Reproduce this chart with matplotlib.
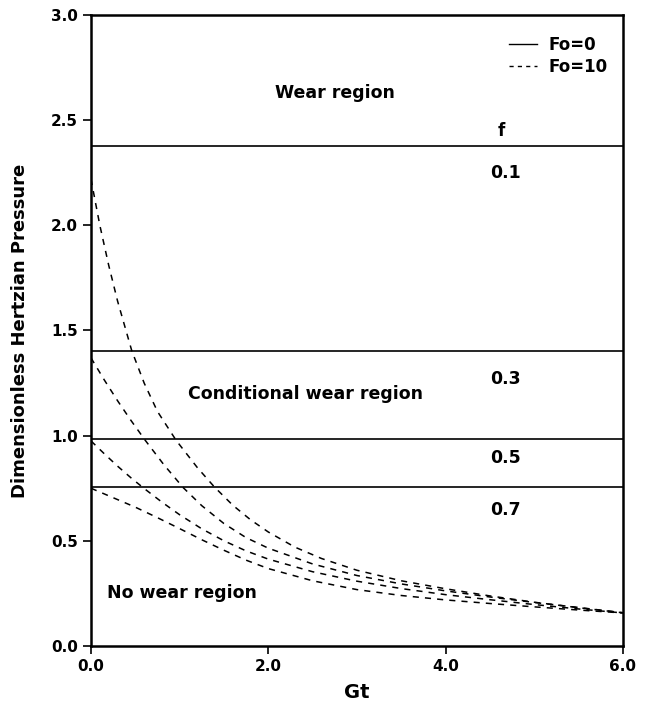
import matplotlib.pyplot as plt
from matplotlib.lines import Line2D

plt.rcParams['font.family'] = ['DejaVu Sans']
plt.rcParams['font.weight'] = 'bold'

# critical pressure for each friction coefficient f (Fo = 0)
f_labels = ['0.1', '0.3', '0.5', '0.7']
p_crit = [2.378, 1.404, 0.982, 0.754]

# Fo = 10 curves
gt_1 = [0.0, 0.1, 0.2, 0.3, 0.46, 0.6, 0.75, 0.96, 1.2, 1.39, 1.6, 1.8, 2.0, 2.3, 2.6,
        3.0, 3.5, 4.0, 4.5, 5.0, 5.5, 6.0]
p_1 = [2.22, 2.0, 1.81, 1.64, 1.404, 1.25, 1.115, 0.978, 0.848, 0.757, 0.669, 0.6, 0.542,
       0.47, 0.416, 0.36, 0.31, 0.272, 0.238, 0.208, 0.182, 0.158]

gt_2 = [0.0, 0.15, 0.3, 0.45, 0.61, 0.82, 1.04, 1.25, 1.5, 1.75, 2.0, 2.5, 3.0, 3.5, 4.0,
        4.5, 5.0, 5.5, 6.0]
p_2 = [1.37, 1.265, 1.166, 1.073, 0.979, 0.863, 0.753, 0.667, 0.582, 0.515, 0.465, 0.39,
       0.335, 0.295, 0.262, 0.233, 0.207, 0.183, 0.158]

gt_3 = [0.0, 0.15, 0.3, 0.45, 0.59, 0.8, 1.0, 1.25, 1.5, 1.75, 2.0, 2.5, 3.0, 3.5, 4.0,
        4.5, 5.0, 5.5, 6.0]
p_3 = [0.975, 0.914, 0.855, 0.8, 0.752, 0.684, 0.624, 0.557, 0.5, 0.452, 0.413, 0.353,
       0.308, 0.273, 0.244, 0.22, 0.197, 0.176, 0.157]

gt_4 = [0.0, 0.25, 0.5, 0.75, 1.0, 1.25, 1.5, 1.75, 2.0, 2.5, 3.0, 3.5, 4.0, 4.5, 5.0,
        5.5, 6.0]
p_4 = [0.75, 0.705, 0.66, 0.61, 0.558, 0.505, 0.455, 0.408, 0.368, 0.31, 0.268, 0.24,
       0.219, 0.202, 0.186, 0.171, 0.157]

fig = plt.figure(figsize=(6.47, 7.03), dpi=100)
ax = fig.add_axes([0.1406, 0.0811, 0.8222, 0.8976])

for p in p_crit:
    ax.axhline(p, color='black', lw=1.2)

for gt, p in [(gt_1, p_1), (gt_2, p_2), (gt_3, p_3), (gt_4, p_4)]:
    ax.plot(gt, p, color='black', lw=1.1, linestyle=(0, (4, 4)))

ax.set_xlim(0, 6)
ax.set_ylim(0, 3)
ax.set_xticks([0, 2, 4, 6])
ax.set_xticklabels(['0.0', '2.0', '4.0', '6.0'])
ax.set_yticks([0, 0.5, 1.0, 1.5, 2.0, 2.5, 3.0])
ax.set_yticklabels(['0.0', '0.5', '1.0', '1.5', '2.0', '2.5', '3.0'])
ax.tick_params(direction='out', length=6, width=1.2, labelsize=11)
for s in ax.spines.values():
    s.set_linewidth(1.8)

ax.set_xlabel('Gt', fontsize=14, fontweight='bold', labelpad=6)
ax.set_ylabel('Dimensionless Hertzian Pressure', fontsize=13, fontweight='bold', labelpad=16)

ax.text(2.75, 2.63, 'Wear region', fontsize=12.5, ha='center', va='center')
ax.text(2.42, 1.20, 'Conditional wear region', fontsize=12.5, ha='center', va='center')
ax.text(0.18, 0.252, 'No wear region', fontsize=12.5, ha='left', va='center')
ax.text(4.63, 2.45, 'f', fontsize=12, ha='center', va='center')
label_y = [2.25, 1.27, 0.894, 0.647]
for lab, y in zip(f_labels, label_y):
    ax.text(4.68, y, lab, fontsize=12.5, ha='center', va='center')

handles = [Line2D([], [], color='black', lw=1.0),
           Line2D([], [], color='black', lw=1.0, linestyle=(0, (3, 3)))]
ax.legend(handles, ['Fo=0', 'Fo=10'], loc='upper right', frameon=False,
          fontsize=12, handlelength=1.7, handletextpad=0.7, labelspacing=0.2,
          bbox_to_anchor=(1.0, 0.99))

fig.savefig('out.png', dpi=100)
